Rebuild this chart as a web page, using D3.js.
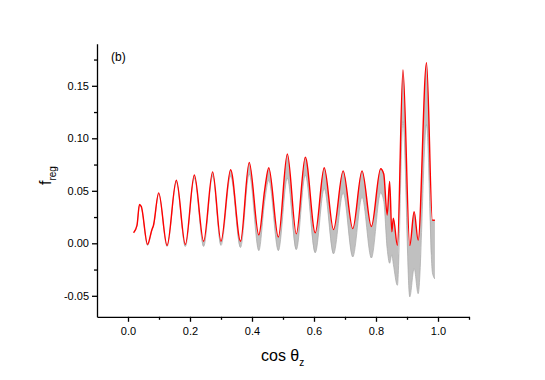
<!DOCTYPE html>
<html>
<head>
<meta charset="UTF-8">
<title>f_reg vs cos theta_z</title>
<script src="https://d3js.org/d3.v7.min.js"></script>
<style>
  body { margin: 0; background: #fff; }
  svg text { font-family: Arial, "Liberation Sans", sans-serif; fill: #000; }
  .axis path, .axis line { stroke: #000; stroke-width: 1.3px; }
  .axis text { font-size: 11px; }
</style>
</head>
<body>
<div id="chart"></div>
<script>
// data
const cosTheta = [0.018, 0.029, 0.037, 0.043, 0.063, 0.077, 0.082, 0.099, 0.126, 0.156,
  0.185, 0.214, 0.244, 0.273, 0.300, 0.331, 0.363, 0.391, 0.422, 0.441,
  0.454, 0.485, 0.514, 0.543, 0.572, 0.604, 0.633, 0.663, 0.694, 0.725,
  0.755, 0.785, 0.815, 0.825, 0.836, 0.844, 0.851, 0.856, 0.869, 0.887,
  0.909, 0.923, 0.936, 0.963, 0.982, 0.990];
const fregRed = [0.010, 0.017, 0.037, 0.035, -0.001, 0.013, 0.017, 0.048, -0.002, 0.060,
  -0.001, 0.065, 0.002, 0.068, 0.002, 0.070, 0.002, 0.077, 0.008, 0.051,
  0.072, 0.006, 0.085, 0.009, 0.082, 0.010, 0.072, 0.013, 0.069, 0.014,
  0.069, 0.016, 0.071, 0.066, 0.027, 0.059, 0.011, 0.024, -0.002, 0.165,
  -0.002, 0.030, 0.003, 0.172, 0.022, 0.022];
const fregLow = [0.010, 0.017, 0.036, 0.034, -0.002, 0.012, 0.016, 0.047, -0.003, 0.058,
  -0.003, 0.062, -0.003, 0.064, -0.002, 0.064, -0.004, 0.066, -0.007, 0.040,
  0.060, -0.007, 0.062, -0.006, 0.065, -0.009, 0.052, -0.010, 0.048, -0.013,
  0.044, -0.014, 0.048, 0.040, -0.005, -0.019, -0.011, -0.020, -0.040, 0.116,
  -0.051, -0.024, -0.048, 0.113, -0.028, -0.034];
const xMajor = [0.0, 0.2, 0.4, 0.6, 0.8, 1.0];
const xMinor = [0.1, 0.3, 0.5, 0.7, 0.9, 1.1];
const yMajor = [-0.05, 0.00, 0.05, 0.10, 0.15];
const yMinor = [-0.025, 0.025, 0.075, 0.125, 0.175];

const width = 545, height = 380;
const svg = d3.select("#chart").append("svg")
  .attr("width", width).attr("height", height);

const x = d3.scaleLinear().domain([-0.1, 1.1]).range([97, 469]);
const y = d3.scaleLinear().domain([-0.07, 0.19]).range([316.8, 43.8]);

const pts = cosTheta.map((c, i) => ({ c, hi: fregRed[i], lo: fregLow[i] }));

// grey band between the curves
svg.append("path")
  .datum(pts)
  .attr("fill", "#c0c0c0")
  .attr("d", d3.area().curve(d3.curveMonotoneX)
    .x(d => x(d.c)).y0(d => y(d.lo)).y1(d => y(d.hi)));

svg.append("path")
  .datum(pts)
  .attr("fill", "none")
  .attr("stroke", "#a8a8a8")
  .attr("stroke-width", 0.7)
  .attr("d", d3.line().curve(d3.curveMonotoneX).x(d => x(d.c)).y(d => y(d.lo)));

svg.append("path")
  .datum(pts)
  .attr("fill", "none")
  .attr("stroke", "#ff0000")
  .attr("stroke-width", 1.4)
  .attr("d", d3.line().curve(d3.curveMonotoneX).x(d => x(d.c)).y(d => y(d.hi)));

// axes (plain hyphen for negatives, like the original)
const fmtX = d3.format(".1f");
const fmtY = d => d3.format(".2f")(d).replace("−", "-");
svg.append("g").attr("class", "axis")
  .attr("transform", `translate(0,${y.range()[0]})`)
  .call(d3.axisBottom(x).tickValues(xMinor).tickSize(3).tickFormat(""))
  .call(g => g.select(".domain").remove());
svg.append("g").attr("class", "axis")
  .attr("transform", `translate(0,${y.range()[0]})`)
  .call(d3.axisBottom(x).tickValues(xMajor).tickSize(5).tickSizeOuter(0).tickPadding(5).tickFormat(fmtX));

svg.append("g").attr("class", "axis")
  .attr("transform", `translate(${x.range()[0]},0)`)
  .call(d3.axisLeft(y).tickValues(yMinor).tickSize(3).tickFormat(""))
  .call(g => g.select(".domain").remove());
svg.append("g").attr("class", "axis")
  .attr("transform", `translate(${x.range()[0]},0)`)
  .call(d3.axisLeft(y).tickValues(yMajor).tickSize(5).tickSizeOuter(0).tickPadding(3).tickFormat(fmtY));

// labels
svg.append("text").attr("x", 111).attr("y", 61).style("font-size", "12px").text("(b)");

const xl = svg.append("text").attr("x", 261).attr("y", 361).style("font-size", "16px");
xl.append("tspan").text("cos θ");
xl.append("tspan").attr("dy", 5).style("font-size", "10px").text("z");

const yl = svg.append("text")
  .attr("transform", "translate(51,185) rotate(-90)")
  .style("font-size", "16px");
yl.append("tspan").text("f");
yl.append("tspan").attr("dy", 5).style("font-size", "10px").text("reg");
</script>
</body>
</html>
